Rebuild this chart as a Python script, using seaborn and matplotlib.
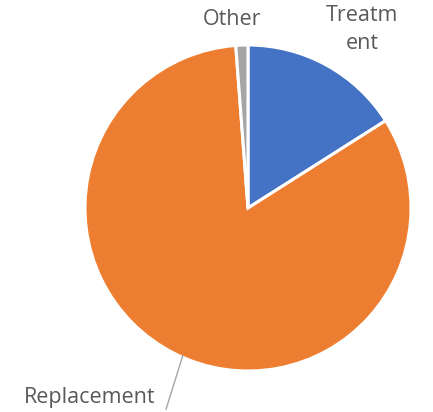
import matplotlib
matplotlib.use("Agg")
import matplotlib.pyplot as plt
import seaborn as sns

categories = ["Treatment", "Replacement", "Other"]
values = [16.0, 82.8, 1.2]
labels = ["Treatm\nent", "Replacement", "Other"]
colors = ["#4472C4", "#ED7D31", "#A5A5A5"]

sns.set_theme(style="white")
plt.rcParams['font.family'] = ['Open Sans', 'DejaVu Sans']

fig = plt.figure(figsize=(4.33, 4.12), dpi=100)
cx, cy, r = 248, 208, 163
ax = fig.add_axes([(cx - r) / 433, (412 - cy - r) / 412, 2 * r / 433, 2 * r / 412])
ax.pie(values, colors=colors, startangle=90, counterclock=False, radius=1,
       wedgeprops=dict(edgecolor="white", linewidth=2.2))
ax.set_xlim(-1, 1)
ax.set_ylim(-1, 1)
ax.set_aspect("equal")
ax.axis("off")

tc = "#595959"
fs = 15.5
ax.text(0.70, 1.095, labels[0], ha="center", va="center", fontsize=fs, color=tc,
        linespacing=1.4, clip_on=False)
ax.text(-0.10, 1.155, labels[2], ha="center", va="center", fontsize=fs, color=tc, clip_on=False)
ax.text(-0.97, -1.16, labels[1], ha="center", va="center", fontsize=fs, color=tc, clip_on=False)
ax.plot([-0.399, -0.503], [-0.902, -1.235], color="#A6A6A6", lw=1, clip_on=False)

fig.savefig("out.png", dpi=100)
